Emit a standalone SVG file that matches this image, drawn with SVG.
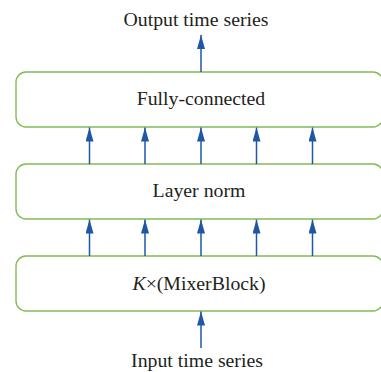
<svg xmlns="http://www.w3.org/2000/svg" width="381" height="372" viewBox="0 0 381 372">
<style>
.box{fill:#fff;stroke:#82bb55;stroke-width:1.4}
.t{font-family:"Liberation Serif","Times New Roman",serif;font-size:19.8px;fill:#231f20;text-anchor:middle}
.c{stroke:#1f57a5;stroke-width:1.5;fill:none}
</style>
<defs>
<marker id="ah" viewBox="0 0 14 8" refX="14" refY="4" markerWidth="14" markerHeight="8" markerUnits="userSpaceOnUse" orient="auto">
<path d="M0,0 L14,4 L0,8 Z" fill="#1f57a5"/>
</marker>
</defs>
<rect width="381" height="372" fill="#fff"/>
<g id="output-label"><text class="t" x="196" y="26">Output time series</text></g>
<g id="fully-connected"><rect class="box" x="16" y="72" width="367" height="55" rx="10"/><text class="t" x="201" y="105">Fully-connected</text></g>
<g id="layer-norm"><rect class="box" x="16" y="164" width="367" height="55" rx="10"/><text class="t" x="199" y="197">Layer norm</text></g>
<g id="mixer-block"><rect class="box" x="16" y="256" width="367" height="55" rx="10"/><text class="t" x="199" y="290"><tspan font-style="italic">K</tspan>×(MixerBlock)</text></g>
<g id="input-label"><text class="t" x="197" y="367">Input time series</text></g>
<g id="connectors">
<line class="c" x1="201" y1="72" x2="201" y2="35" marker-end="url(#ah)"/>
<line class="c" x1="89.5" y1="164" x2="89.5" y2="127.5" marker-end="url(#ah)"/>
<line class="c" x1="145" y1="164" x2="145" y2="127.5" marker-end="url(#ah)"/>
<line class="c" x1="201" y1="164" x2="201" y2="127.5" marker-end="url(#ah)"/>
<line class="c" x1="256.5" y1="164" x2="256.5" y2="127.5" marker-end="url(#ah)"/>
<line class="c" x1="312.5" y1="164" x2="312.5" y2="127.5" marker-end="url(#ah)"/>
<line class="c" x1="89.5" y1="256" x2="89.5" y2="219.5" marker-end="url(#ah)"/>
<line class="c" x1="145" y1="256" x2="145" y2="219.5" marker-end="url(#ah)"/>
<line class="c" x1="201" y1="256" x2="201" y2="219.5" marker-end="url(#ah)"/>
<line class="c" x1="256.5" y1="256" x2="256.5" y2="219.5" marker-end="url(#ah)"/>
<line class="c" x1="312.5" y1="256" x2="312.5" y2="219.5" marker-end="url(#ah)"/>
<line class="c" x1="201" y1="348" x2="201" y2="311.5" marker-end="url(#ah)"/>
</g>
</svg>
